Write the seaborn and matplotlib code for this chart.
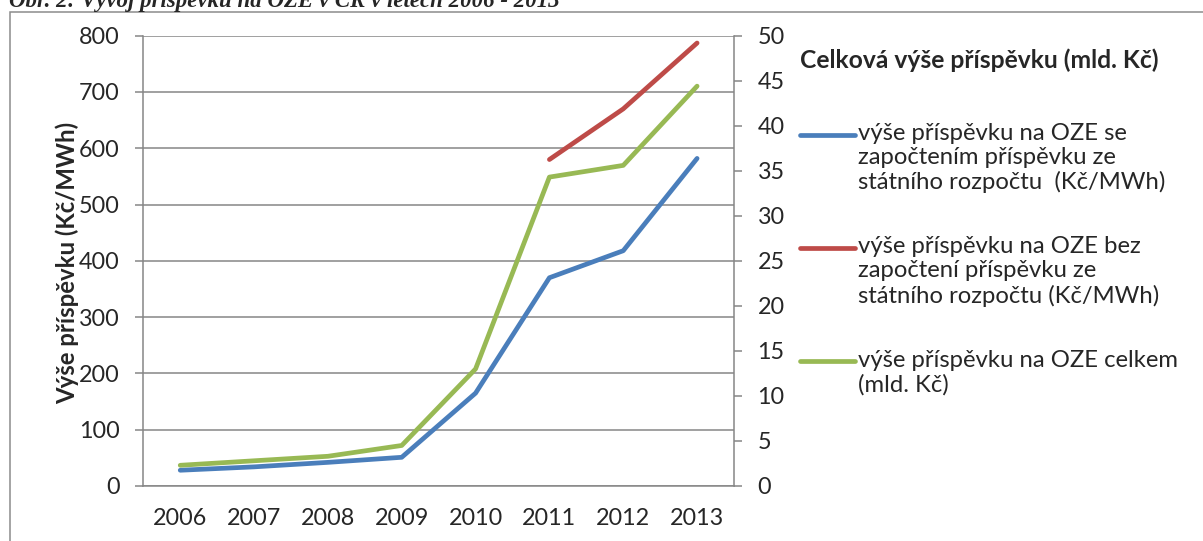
import numpy as np
import pandas as pd
import matplotlib
matplotlib.use("Agg")
import matplotlib.pyplot as plt
import matplotlib.patches as mpatches
from matplotlib.legend_handler import HandlerLine2D
import seaborn as sns

# ---- data ----
roky = [2006, 2007, 2008, 2009, 2010, 2011, 2012, 2013]
prispevek_se_sr = [28, 34, 42, 51, 165, 370, 418, 582]            # Kč/MWh
prispevek_bez_sr = [np.nan, np.nan, np.nan, np.nan, np.nan, 580, 670, 787]  # Kč/MWh
prispevek_celkem = [2.3, 2.8, 3.3, 4.5, 13.0, 34.3, 35.6, 44.4]     # mld. Kč

lbl_se = "výše příspěvku na OZE se\nzapočtením příspěvku ze\nstátního rozpočtu  (Kč/MWh)"
lbl_bez = "výše příspěvku na OZE bez\nzapočtení příspěvku ze\nstátního rozpočtu (Kč/MWh)"
lbl_celkem = "výše příspěvku na OZE celkem\n(mld. Kč)"

left_ticks = list(range(0, 801, 100))
right_ticks = list(range(0, 51, 5))

df = pd.DataFrame({
    "rok": roky,
    "se": prispevek_se_sr,
    "bez": prispevek_bez_sr,
    "celkem": prispevek_celkem,
})

sns.set_style("white")
plt.rcParams["font.family"] = ["Lato", "DejaVu Sans"]

W, H = 1203, 541
fig = plt.figure(figsize=(W / 100, H / 100), dpi=100)

x0, x1, y0, y1 = 143.3, 734.0, 35.7, 486.0
ax = fig.add_axes([x0 / W, 1 - y1 / H, (x1 - x0) / W, (y1 - y0) / H])
ax2 = ax.twinx()

c_blue, c_red, c_green = "#4A7EBB", "#BE4B48", "#98B954"
grid_c = "#868686"
lw = 3.4

sns.lineplot(data=df, x="rok", y="se", ax=ax, color=c_blue, linewidth=lw,
             label=lbl_se, solid_capstyle="round", zorder=3)
sns.lineplot(data=df, x="rok", y="bez", ax=ax, color=c_red, linewidth=lw,
             label=lbl_bez, solid_capstyle="round", zorder=3)
sns.lineplot(data=df, x="rok", y="celkem", ax=ax2, color=c_green, linewidth=lw,
             label=lbl_celkem, solid_capstyle="round", zorder=3)

ax.set_xlim(roky[0] - 0.5, roky[-1] + 0.5)
ax.set_ylim(0, 800)
ax2.set_ylim(0, 50)
ax.set_xticks(roky)
ax.set_xticklabels([str(r) for r in roky])
ax.set_yticks(left_ticks)
ax2.set_yticks(right_ticks)

ax.grid(axis="y", color=grid_c, linewidth=1.1)
ax.set_axisbelow(True)
ax2.grid(False)

for a in (ax, ax2):
    for side, sp in a.spines.items():
        sp.set_color(grid_c)
        sp.set_linewidth(1.1)
    a.spines["top"].set_visible(False)
ax.spines["right"].set_visible(False)
ax2.spines["left"].set_visible(False)
ax2.spines["bottom"].set_visible(False)

fs = 16.8
ax.tick_params(axis="y", which="major", length=6, width=1.1, color=grid_c,
               pad=11, labelsize=fs, left=True)
ax.tick_params(axis="x", length=0, pad=16, labelsize=fs)
ax2.tick_params(axis="y", length=6, width=1.1, color=grid_c, pad=11,
                labelsize=fs, right=True)

ax.set_xlabel("")
ax.set_ylabel("Výše příspěvku (Kč/MWh)", fontsize=17.2, fontweight="bold")
ax.yaxis.set_label_coords(-0.108, 0.495)
ax2.set_ylabel("")

# combined legend on the right
h1, l1 = ax.get_legend_handles_labels()
h2, l2 = ax2.get_legend_handles_labels()
ax.get_legend().remove()
ax2.get_legend().remove()


class FirstLineHandler(HandlerLine2D):
    """Puts the legend line next to the first line of a wrapped label."""

    def __init__(self, nlines, pitch, **kw):
        super().__init__(**kw)
        self.shift = (nlines - 1) / 2 * pitch

    def create_artists(self, legend, orig_handle, xdescent, ydescent, width,
                       height, fontsize, trans):
        arts = super().create_artists(legend, orig_handle, xdescent, ydescent,
                                      width, height, fontsize, trans)
        for a in arts:
            if hasattr(a, "get_ydata"):
                a.set_ydata(np.asarray(a.get_ydata(), dtype=float) + self.shift)
        return arts


pitch = 23.5 * 72 / 100
handles = h1 + h2
labels = l1 + l2
hmap = {h: FirstLineHandler(lab.count("\n") + 1, pitch) for h, lab in zip(handles, labels)}

lfs = 17.2
leg = fig.legend(handles, labels, loc="upper left",
                 bbox_to_anchor=(800 / W, 1 - 48 / H),
                 frameon=False, fontsize=lfs, handlelength=2.3,
                 handletextpad=0.13, labelspacing=1.8, borderpad=0,
                 borderaxespad=0, alignment="left", handler_map=hmap,
                 title="Celková výše příspěvku (mld. Kč)",
                 title_fontproperties={"weight": "bold", "size": 17.7})
leg._legend_box.sep = 37
for t in leg.get_texts():
    t.set_linespacing(1.18)
for ln in leg.get_lines():
    ln.set_linewidth(lw)

# outer frame of the figure
frame = mpatches.Rectangle((10 / W, -0.2), 1.5, 1.2 - 12 / H,
                           transform=fig.transFigure, fill=False,
                           edgecolor="#8C8C8C", linewidth=1.1, clip_on=False)
fig.patches.append(frame)

fig.text(9 / W, 1 - 6.5 / H,
         "Obr. 2: Vývoj příspěvku na OZE v ČR v letech 2006 - 2013",
         family=["Liberation Serif", "DejaVu Serif"], style="italic",
         weight="bold", fontsize=16.5, va="baseline", ha="left")

fig.savefig("out.png", dpi=100)
